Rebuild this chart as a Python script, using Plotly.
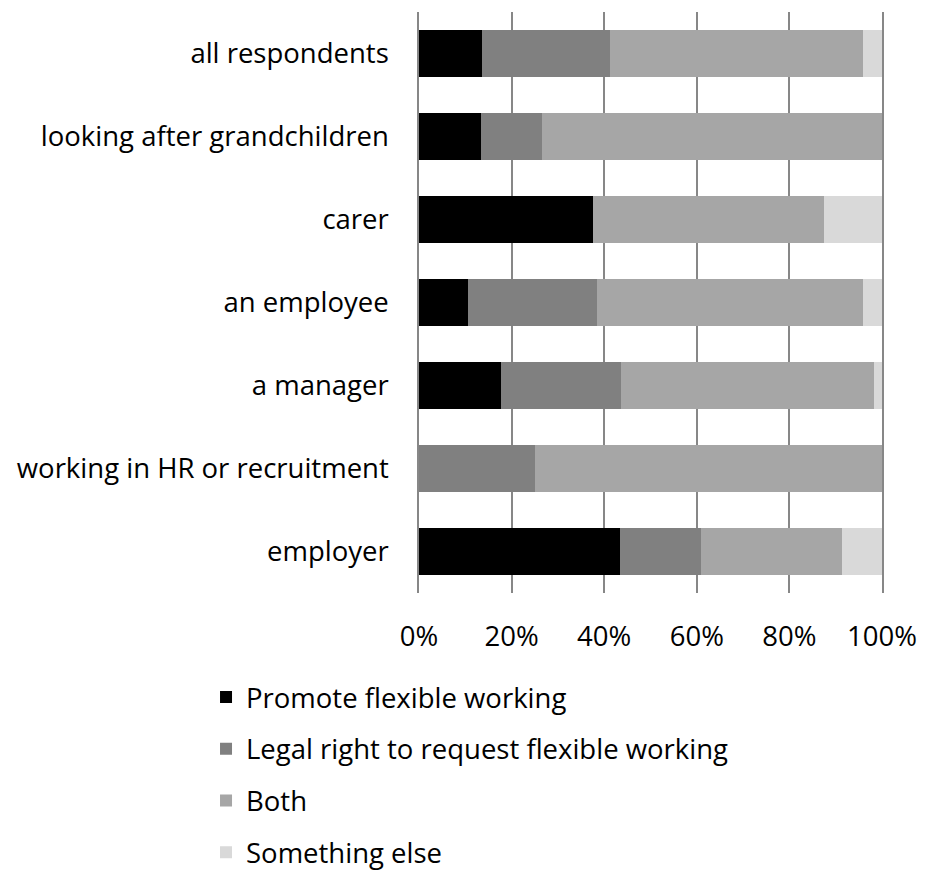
import plotly.graph_objects as go

# Respondent groups, listed top to bottom
groups = [
    "all respondents",
    "looking after grandchildren",
    "carer",
    "an employee",
    "a manager",
    "working in HR or recruitment",
    "employer",
]

# Share of each group (%) choosing each option
promote = [13.7, 13.3, 37.5, 10.5, 17.8, 0.0, 43.5]
legal_right = [27.5, 13.3, 0.0, 27.9, 25.8, 25.0, 17.4]
both = [54.8, 73.4, 50.0, 57.5, 54.7, 75.0, 30.4]
something_else = [4.0, 0.0, 12.5, 4.1, 1.7, 0.0, 8.7]

series = [
    ("Promote flexible working", promote, "#000000"),
    ("Legal right to request flexible working", legal_right, "#808080"),
    ("Both", both, "#a6a6a6"),
    ("Something else", something_else, "#d9d9d9"),
]

x_ticks = [0, 20, 40, 60, 80, 100]

font_family = "'Open Sans', sans-serif"
font_size = 27.5
grid_colour = "#878787"

fig = go.Figure()
for i, (name, values, colour) in enumerate(series):
    fig.add_trace(go.Bar(
        name=name,
        y=groups,
        x=values,
        orientation="h",
        marker=dict(color=colour, line=dict(width=0)),
        legendgroup=f"g{i}",
    ))

fig.update_layout(
    barmode="stack",
    bargap=0.434,
    width=930,
    height=874,
    margin=dict(l=419, r=48, t=12, b=281, autoexpand=False),
    paper_bgcolor="white",
    plot_bgcolor="white",
    font=dict(family=font_family, size=font_size, color="#000000"),
    showlegend=True,
    legend=dict(
        orientation="v",
        x=-0.46,
        xanchor="left",
        y=-0.137,
        yanchor="top",
        font=dict(family=font_family, size=font_size, color="#000000"),
        tracegroupgap=13,
        itemwidth=30,
        traceorder="grouped",
    ),
    xaxis=dict(
        range=[0, 100],
        tickvals=x_ticks,
        ticktext=[f"{v}%" for v in x_ticks],
        showgrid=True,
        gridcolor=grid_colour,
        gridwidth=1.5,
        zeroline=False,
        showline=False,
        ticks="",
        ticklabelstandoff=24,
        tickfont=dict(family=font_family, size=font_size),
        fixedrange=True,
    ),
    yaxis=dict(
        categoryorder="array",
        categoryarray=groups,
        autorange="reversed",
        showgrid=False,
        zeroline=False,
        showline=True,
        mirror=True,
        linecolor=grid_colour,
        linewidth=1.5,
        ticks="",
        ticklabelstandoff=23,
        tickfont=dict(family=font_family, size=font_size),
        fixedrange=True,
    ),
)

fig.write_html("out.html")
